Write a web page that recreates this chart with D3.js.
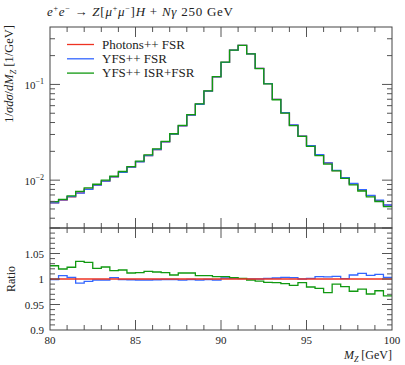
<!DOCTYPE html>
<html>
<head>
<meta charset="utf-8">
<script src="https://cdn.jsdelivr.net/npm/d3@7"></script>
<style>
  body { margin: 0; background: #fff; }
  text { font-family: "Liberation Serif", "DejaVu Serif", serif; fill: #222; }
</style>
</head>
<body>
<div id="chart"></div>
<script>
// bin edges: 80..100 GeV, 0.5 GeV wide
var binLow = 80, binWidth = 0.5;

// Photons++ FSR, 1/sigma dsigma/dM_Z [1/GeV]
var photons = [
  0.00580, 0.00618, 0.00669, 0.00736, 0.00805, 0.00887, 0.00977, 0.0108, 0.0121, 0.0137,
  0.0156, 0.0181, 0.0209, 0.0251, 0.0303, 0.0369, 0.0478, 0.0622, 0.0851, 0.120,
  0.170, 0.228, 0.256, 0.209, 0.147, 0.102, 0.0697, 0.0505, 0.0376, 0.0288,
  0.0229, 0.0184, 0.0151, 0.0126, 0.0106, 0.00915, 0.00786, 0.00689, 0.00612, 0.00548
];

// ratios to Photons++ FSR
var ratioYfsFsr = [
  0.9986, 1.0065, 1.0033, 0.9920, 0.9954, 0.9980, 0.9980, 1.0026, 0.9986, 0.9985,
  0.9980, 0.9980, 0.9985, 0.9990, 0.9990, 0.9980, 0.9990, 0.9980, 0.9990, 0.9980,
  1.0020, 1.0013, 1.0006, 1.0000, 1.0000, 1.0013, 1.0020, 1.0033, 1.0026, 1.0000,
  1.0013, 1.0046, 1.0040, 1.0052, 1.0006, 1.0078, 1.0110, 1.0072, 1.0090, 1.0033
];
var ratioYfsIsrFsr = [
  1.0260, 1.0196, 1.0230, 1.0347, 1.0327, 1.0210, 1.0235, 1.0163, 1.0176, 1.0118,
  1.0124, 1.0150, 1.0137, 1.0124, 1.0078, 1.0118, 1.0118, 1.0065, 1.0065, 1.0046,
  1.0046, 1.0026, 1.0013, 0.9980, 0.9960, 0.9935, 0.9928, 0.9908, 0.9876, 0.9928,
  0.9843, 0.9817, 0.9732, 0.9900, 0.9850, 0.9760, 0.9800, 0.9706, 0.9770, 0.9670
];

var seriesNames = ['Photons++ FSR', 'YFS++ FSR', 'YFS++ ISR+FSR'];
var seriesColors = ['#ee3322', '#3366ff', '#119911'];

var yLogTicks = [0.01, 0.1];
var ratioTicks = [0.9, 0.95, 1, 1.05];
var xTicks = [80, 85, 90, 95, 100];

var width = 405, height = 365;
var left = 50, right = 392, mainTop = 27, mainBottom = 228, ratioBottom = 330;

var svg = d3.select('#chart').append('svg')
  .attr('width', width).attr('height', height)
  .style('background-color', '#FFFFFF');

var x = d3.scaleLinear().domain([80, 100]).range([left, right]);
var y = d3.scaleLog().domain([Math.pow(10, -2.5), Math.pow(10, -0.4)]).range([mainBottom, mainTop]);
var yr = d3.scaleLinear().domain([0.9, 1.1]).range([ratioBottom, mainBottom]);

// main-panel series are the reference times the ratios
var ratios = [photons.map(function () { return 1; }), ratioYfsFsr, ratioYfsIsrFsr];
var series = ratios.map(function (r) {
  return photons.map(function (v, i) { return v * r[i]; });
});

function stepPoints(vals) {
  var pts = vals.map(function (v, i) { return [binLow + i * binWidth, v]; });
  pts.push([binLow + vals.length * binWidth, vals[vals.length - 1]]);
  return pts;
}

var mainLine = d3.line().curve(d3.curveStepAfter)
  .x(function (d) { return x(d[0]); })
  .y(function (d) { return y(d[1]); });
var ratioLine = d3.line().curve(d3.curveStepAfter)
  .x(function (d) { return x(d[0]); })
  .y(function (d) { return yr(d[1]); });

svg.append('clipPath').attr('id', 'clipMain').append('rect')
  .attr('x', left).attr('y', mainTop).attr('width', right - left).attr('height', mainBottom - mainTop);
svg.append('clipPath').attr('id', 'clipRatio').append('rect')
  .attr('x', left).attr('y', mainBottom).attr('width', right - left).attr('height', ratioBottom - mainBottom);

// main panel curves
var gMain = svg.append('g').attr('clip-path', 'url(#clipMain)');
series.forEach(function (s, k) {
  gMain.append('path')
    .attr('d', mainLine(stepPoints(s)))
    .attr('fill', 'none')
    .attr('stroke', seriesColors[k])
    .attr('stroke-width', 1.3);
});

// ratio panel curves (reference drawn last)
var gRatio = svg.append('g').attr('clip-path', 'url(#clipRatio)');
[1, 2, 0].forEach(function (k) {
  gRatio.append('path')
    .attr('d', ratioLine(stepPoints(ratios[k])))
    .attr('fill', 'none')
    .attr('stroke', seriesColors[k])
    .attr('stroke-width', 1.3);
});

// ticks
var tickColor = '#555';
function vTicks(vals, y0, len) {
  svg.append('g').selectAll('line').data(vals).enter().append('line')
    .attr('x1', function (d) { return x(d); }).attr('x2', function (d) { return x(d); })
    .attr('y1', y0).attr('y2', y0 + len)
    .attr('stroke', tickColor).attr('stroke-width', 1);
}
function hTicks(vals, scale, len) {
  var g = svg.append('g');
  vals.forEach(function (d) {
    g.append('line').attr('x1', left).attr('x2', left + len)
      .attr('y1', scale(d)).attr('y2', scale(d)).attr('stroke', tickColor);
    g.append('line').attr('x1', right).attr('x2', right - len)
      .attr('y1', scale(d)).attr('y2', scale(d)).attr('stroke', tickColor);
  });
}

var xMinor = d3.range(81, 100).filter(function (d) { return d % 5 !== 0; });
var xMajorInner = [85, 90, 95];
// main panel: top and bottom
vTicks(xMinor, mainTop, 5); vTicks(xMajorInner, mainTop, 10);
vTicks(xMinor, mainBottom, -5); vTicks(xMajorInner, mainBottom, -10);
// ratio panel: top and bottom
vTicks(xMinor, mainBottom, 5); vTicks(xMajorInner, mainBottom, 10);
vTicks(xMinor, ratioBottom, -5); vTicks(xMajorInner, ratioBottom, -10);

var logMinor = [];
[-3, -2, -1].forEach(function (e) {
  for (var k = 2; k <= 9; k++) {
    var v = k * Math.pow(10, e);
    if (v > y.domain()[0] && v < y.domain()[1]) logMinor.push(v);
  }
});
hTicks(logMinor, y, 5);
hTicks(yLogTicks, y, 10);

var rMinor = d3.range(0.91, 1.1, 0.01).filter(function (d) {
  return Math.abs(d * 20 - Math.round(d * 20)) > 1e-6;
});
hTicks(rMinor, yr, 5);
hTicks(ratioTicks.concat([1.1]).filter(function (d) { return d > 0.9; }), yr, 10);

// frames
[[mainTop, mainBottom], [mainBottom, ratioBottom]].forEach(function (p) {
  svg.append('rect').attr('x', left).attr('y', p[0])
    .attr('width', right - left).attr('height', p[1] - p[0])
    .attr('fill', 'none').attr('stroke', '#444').attr('stroke-width', 1);
});

// tick labels
var lab = svg.append('g').style('font-size', '11px');
yLogTicks.forEach(function (v) {
  var t = lab.append('text').attr('x', left - 6).attr('y', y(v) + 5).attr('text-anchor', 'end');
  t.append('tspan').text('10');
  t.append('tspan').attr('dy', -5).style('font-size', '8px').text('\u2212' + Math.round(-Math.log10(v)));
});
ratioTicks.forEach(function (v) {
  lab.append('text').attr('x', left - 6).attr('y', yr(v) + 4).attr('text-anchor', 'end').text(d3.format('')(v));
});
xTicks.forEach(function (v) {
  lab.append('text').attr('x', x(v)).attr('y', ratioBottom + 14).attr('text-anchor', 'middle').text(v);
});

// axis titles
var xt = svg.append('text').attr('x', right).attr('y', 359).attr('text-anchor', 'end').style('font-size', '12px');
xt.append('tspan').style('font-style', 'italic').text('M');
xt.append('tspan').attr('dy', 3).style('font-size', '8px').style('font-style', 'italic').text('Z');
xt.append('tspan').attr('dy', -3).text(' [GeV]');

var yt = svg.append('text').attr('transform', 'translate(13,25) rotate(-90)')
  .attr('text-anchor', 'end').style('font-size', '12.5px');
yt.append('tspan').text('1/');
yt.append('tspan').style('font-style', 'italic').text('\u03c3d\u03c3');
yt.append('tspan').text('/');
yt.append('tspan').style('font-style', 'italic').text('dM');
yt.append('tspan').attr('dy', 3).style('font-size', '8px').style('font-style', 'italic').text('Z');
yt.append('tspan').attr('dy', -3).text(' [1/GeV]');

svg.append('text').attr('transform', 'translate(15,' + yr(1) + ') rotate(-90)')
  .attr('text-anchor', 'middle').style('font-size', '12px').text('Ratio');

// title
var tt = svg.append('text').attr('x', 47).attr('y', 16).style('font-size', '13px')
  .attr('textLength', 186).attr('lengthAdjust', 'spacing');
tt.append('tspan').style('font-style', 'italic').text('e');
tt.append('tspan').attr('dy', -5).style('font-size', '8px').text('+');
tt.append('tspan').attr('dy', 5).style('font-style', 'italic').text('e');
tt.append('tspan').attr('dy', -5).style('font-size', '8px').text('\u2212');
tt.append('tspan').attr('dy', 5).text(' \u2192 ');
tt.append('tspan').style('font-style', 'italic').text('Z');
tt.append('tspan').text('[');
tt.append('tspan').style('font-style', 'italic').text('\u03bc');
tt.append('tspan').attr('dy', -5).style('font-size', '8px').text('+');
tt.append('tspan').attr('dy', 5).style('font-style', 'italic').text('\u03bc');
tt.append('tspan').attr('dy', -5).style('font-size', '8px').text('\u2212');
tt.append('tspan').attr('dy', 5).text(']');
tt.append('tspan').style('font-style', 'italic').text('H');
tt.append('tspan').text(' + ');
tt.append('tspan').style('font-style', 'italic').text('N\u03b3');
tt.append('tspan').text(' 250 GeV');

// legend
var legend = svg.append('g');
seriesNames.forEach(function (name, k) {
  var ly = 44.5 + k * 14.3;
  legend.append('line').attr('x1', 67).attr('x2', 94).attr('y1', ly).attr('y2', ly)
    .attr('stroke', seriesColors[k]).attr('stroke-width', 1.3);
  legend.append('text').attr('x', 102).attr('y', ly + 4).style('font-size', '13px').text(name);
});
</script>
</body>
</html>
